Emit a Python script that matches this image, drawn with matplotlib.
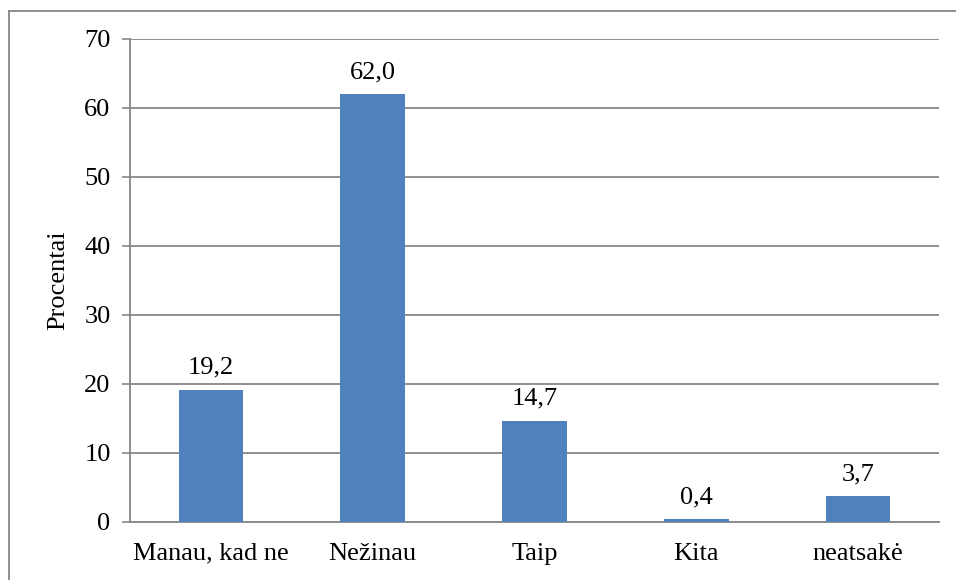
import matplotlib.pyplot as plt
from matplotlib.lines import Line2D

categories = ["Manau, kad ne", "Nežinau", "Taip", "Kita", "neatsakė"]
values = [19.2, 62.0, 14.7, 0.4, 3.7]
value_labels = ["19,2", "62,0", "14,7", "0,4", "3,7"]
y_ticks = [0, 10, 20, 30, 40, 50, 60, 70]

plt.rcParams["font.family"] = ["Liberation Serif", "DejaVu Serif"]

GRID = "#878787"
BAR = "#4F81BD"
FS = 19

fig = plt.figure(figsize=(9.56, 5.8), dpi=100)
ax = fig.add_axes([0.136, 0.1, 0.846, 0.8328])

x = range(len(categories))
ax.bar(x, values, width=0.4, color=BAR, zorder=3)
for xi, v, lab in zip(x, values, value_labels):
    ax.annotate(lab, (xi, v), xytext=(0, 11.5), textcoords="offset points",
                ha="center", va="baseline", fontsize=FS)

ax.set_xlim(-0.5, len(categories) - 0.5)
ax.set_ylim(0, 70)
ax.set_yticks(y_ticks)
ax.set_xticks(list(x))
ax.set_xticklabels(categories)
ax.tick_params(axis="x", length=0, pad=15, labelsize=FS)
ax.tick_params(axis="y", length=6, width=1.2, color=GRID, pad=8, labelsize=FS)
ax.yaxis.grid(True, color=GRID, linewidth=1.3, zorder=0)
ax.set_axisbelow(True)
for side in ("top", "right"):
    ax.spines[side].set_visible(False)
for side in ("left", "bottom"):
    ax.spines[side].set_color(GRID)
    ax.spines[side].set_linewidth(1.3)
ax.set_ylabel("Procentai", fontsize=FS, labelpad=10.5)

# obrub oko grafikona (desni i donji rub izlaze van slike)
bx, by = 8.5 / 956, 1 - 10.5 / 580
fig.add_artist(Line2D([bx, bx], [0, by], color=GRID, linewidth=1.3))
fig.add_artist(Line2D([bx, 1], [by, by], color=GRID, linewidth=1.3))

fig.savefig("out.png", dpi=100)
